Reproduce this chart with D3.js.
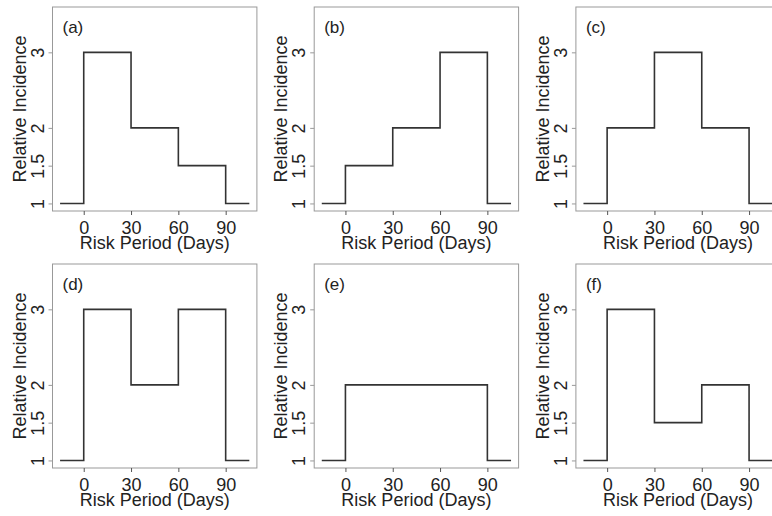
<!doctype html>
<html lang="en">
<head>
  <meta charset="utf-8">
  <title>Relative Incidence by Risk Period</title>
  <style>
    html, body { margin: 0; padding: 0; background: white; }
    svg { display: block; font-family: "Liberation Sans", Arial, Helvetica, sans-serif; }
    .tick text { fill: #222; }
  </style>
</head>
<body>
  <svg id="chart" width="772" height="516"></svg>
  <script src="https://d3js.org/d3.v7.min.js"></script>
  <script>
    // step breakpoints (days) and the three risk-window levels per panel
    const days = [-15, 0, 30, 60, 90, 105];
    const xTicks = [0, 30, 60, 90];
    const yTicks = [1, 1.5, 2, 3];
    const panelLabels = ["(a)", "(b)", "(c)", "(d)", "(e)", "(f)"];
    const levelsA = [3, 2, 1.5];
    const levelsB = [1.5, 2, 3];
    const levelsC = [2, 3, 2];
    const levelsD = [3, 2, 3];
    const levelsE = [2, 2, 2];
    const levelsF = [3, 1.5, 2];
    const panels = [levelsA, levelsB, levelsC, levelsD, levelsE, levelsF];

    const svg = d3.select("#chart");
    const colLeft = [52.5, 314.2, 575.9];
    const rowTop = [7, 264];
    const w = 204.4, h = 204;

    // R-style 4% padding on xlim c(-15,105) and ylim c(1,3.5)
    const x = d3.scaleLinear().domain([-19.8, 109.8]).range([0, w]);
    const y = d3.scaleLinear().domain([0.9, 3.6]).range([h, 0]);

    const line = d3.line()
      .x(d => x(d[0]))
      .y(d => y(d[1]))
      .curve(d3.curveStepAfter);

    panels.forEach((lv, i) => {
      const g = svg.append("g")
        .attr("transform", `translate(${colLeft[i % 3]},${rowTop[Math.floor(i / 3)]})`);

      const pts = [[days[0], 1], [days[1], lv[0]], [days[2], lv[1]], [days[3], lv[2]], [days[4], 1], [days[5], 1]];

      g.append("path")
        .datum(pts)
        .attr("d", line)
        .attr("fill", "none")
        .attr("stroke", "#333")
        .attr("stroke-width", 1.6);

      g.append("rect")
        .attr("x", 0).attr("y", 0)
        .attr("width", w).attr("height", h)
        .attr("fill", "none")
        .attr("stroke", "#999")
        .attr("stroke-width", 1);

      const xa = g.append("g")
        .attr("transform", `translate(0,${h})`)
        .call(d3.axisBottom(x).tickValues(xTicks).tickSize(4).tickPadding(6));
      xa.select(".domain").remove();
      xa.selectAll("line").attr("stroke", "#555");
      xa.selectAll("text").attr("font-size", 18).attr("font-family", null);

      const ya = g.append("g")
        .call(d3.axisLeft(y).tickValues(yTicks).tickSize(4).tickFormat(d3.format("")));
      ya.select(".domain").remove();
      ya.selectAll("line").attr("stroke", "#999");
      ya.selectAll("text")
        .attr("font-size", 18)
        .attr("font-family", null)
        .attr("text-anchor", "middle")
        .attr("dy", null)
        .attr("x", null)
        .attr("transform", "translate(-9,0) rotate(-90)");

      g.append("text")
        .attr("x", w / 2).attr("y", h + 38)
        .attr("text-anchor", "middle")
        .attr("font-size", 18)
        .attr("fill", "#222")
        .text("Risk Period (Days)");

      g.append("text")
        .attr("transform", `translate(-27,${h / 2}) rotate(-90)`)
        .attr("text-anchor", "middle")
        .attr("font-size", 18)
        .attr("fill", "#222")
        .text("Relative Incidence");

      g.append("text")
        .attr("x", 10).attr("y", 26)
        .attr("font-size", 17)
        .attr("fill", "#222")
        .text(panelLabels[i]);
    });
  </script>
</body>
</html>
